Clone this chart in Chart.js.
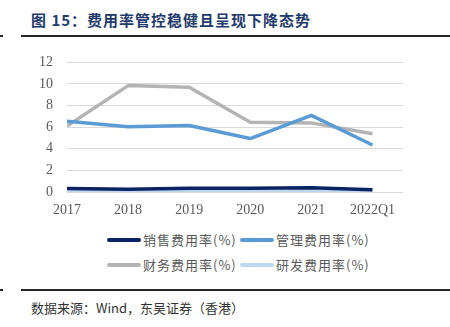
<!DOCTYPE html>
<html>
<head>
<meta charset="utf-8">
<script src="https://cdn.jsdelivr.net/npm/chart.js@4/dist/chart.umd.min.js"></script>
<style>
  html, body { margin: 0; padding: 0; background: #fff; }
  body { width: 450px; height: 327px; position: relative; overflow: hidden; }
  .title {
    position: absolute; left: 31px; top: 9px;
    font-family: "Noto Sans CJK SC", sans-serif; font-weight: 700;
    font-size: 15px; color: #1F3A6B; white-space: nowrap; letter-spacing: 1px;
  }
  .rule { position: absolute; height: 2px; background: #262626; }
  #wrap { position: absolute; left: 0; top: 40px; width: 450px; height: 180px; }
  #legend {
    position: absolute; left: 107px; top: 227px;
    display: grid; grid-template-columns: 133px 133px; grid-auto-rows: 25px;
  }
  .item { display: flex; align-items: center; white-space: nowrap; }
  .item i { display: inline-block; width: 34px; height: 4px; border-radius: 2px; margin-right: 2px; }
  .item span {
    font-family: "Noto Sans CJK SC", sans-serif; font-size: 13px; color: #595959; letter-spacing: 1px;
  }
  .src {
    position: absolute; left: 31px; top: 298px;
    font-family: "Noto Sans CJK SC", sans-serif; font-size: 13px; color: #333; white-space: nowrap;
  }
</style>
</head>
<body>
<div class="title">图 15：费用率管控稳健且呈现下降态势</div>
<div class="rule" style="left:0;width:3px;top:35px"></div>
<div class="rule" style="left:21px;right:0;top:35px"></div>
<div id="wrap"><canvas id="chart"></canvas></div>
<div id="legend"></div>
<div class="rule" style="left:0;width:3px;top:289px"></div>
<div class="rule" style="left:21px;right:0;top:289px"></div>
<div class="src">数据来源：Wind，东吴证券（香港）</div>

<script>
// data
const years = ['2017', '2018', '2019', '2020', '2021', '2022Q1'];
const sellingRate = [0.33, 0.25, 0.35, 0.35, 0.4, 0.2];
const adminRate = [6.55, 6.05, 6.15, 4.95, 7.1, 4.35];
const financeRate = [6.1, 9.85, 9.7, 6.45, 6.4, 5.4];
const rdRate = [0.05, 0.05, 0.1, 0.1, 0.1, 0.05];
const seriesNames = ['销售费用率(%)', '管理费用率(%)', '财务费用率(%)', '研发费用率(%)'];
const yTicks = [0, 2, 4, 6, 8, 10, 12];

const colors = ['#0B2263', '#5B9BD5', '#B4B4B4', '#BDD7EE'];
const allSeries = [sellingRate, adminRate, financeRate, rdRate];

const datasets = allSeries.map((vals, i) => ({
    label: seriesNames[i],
    data: vals.map((v, j) => ({ x: j, y: v })),
    borderColor: colors[i],
    backgroundColor: colors[i],
    borderWidth: 3.5,
    pointRadius: 0,
    tension: 0,
    borderJoinStyle: 'round'
}));

const serif = "'Liberation Serif', 'Times New Roman', serif";

new Chart(document.getElementById('chart'), {
    type: 'line',
    data: { datasets: datasets },
    options: {
        responsive: true,
        maintainAspectRatio: false,
        animation: false,
        layout: { padding: { left: 0, right: 47, top: 18, bottom: 0 } },
        plugins: { legend: { display: false }, tooltip: { enabled: false } },
        scales: {
            x: {
                type: 'linear',
                min: 0,
                max: years.length - 0.5,
                afterBuildTicks: s => { s.ticks = years.map((_, i) => ({ value: i })); },
                afterFit: s => { s.height = 28; },
                ticks: {
                    callback: v => years[v] || '',
                    color: '#595959',
                    font: { size: 14, family: serif },
                    padding: 2,
                    maxRotation: 0,
                    autoSkip: false
                },
                grid: { display: false },
                border: { display: false }
            },
            y: {
                min: 0,
                max: 12,
                afterBuildTicks: s => { s.ticks = yTicks.map(v => ({ value: v })); },
                afterFit: s => { s.width = 67; },
                ticks: {
                    color: '#595959',
                    font: { size: 14, family: serif },
                    padding: 14
                },
                grid: { color: '#D9D9D9', lineWidth: 1, drawTicks: false },
                border: { display: false }
            }
        }
    }
});

// legend
const legend = document.getElementById('legend');
seriesNames.forEach((name, i) => {
    const it = document.createElement('div');
    it.className = 'item';
    it.innerHTML = '<i style="background:' + colors[i] + '"></i><span>' + name + '</span>';
    legend.appendChild(it);
});
</script>
</body>
</html>
